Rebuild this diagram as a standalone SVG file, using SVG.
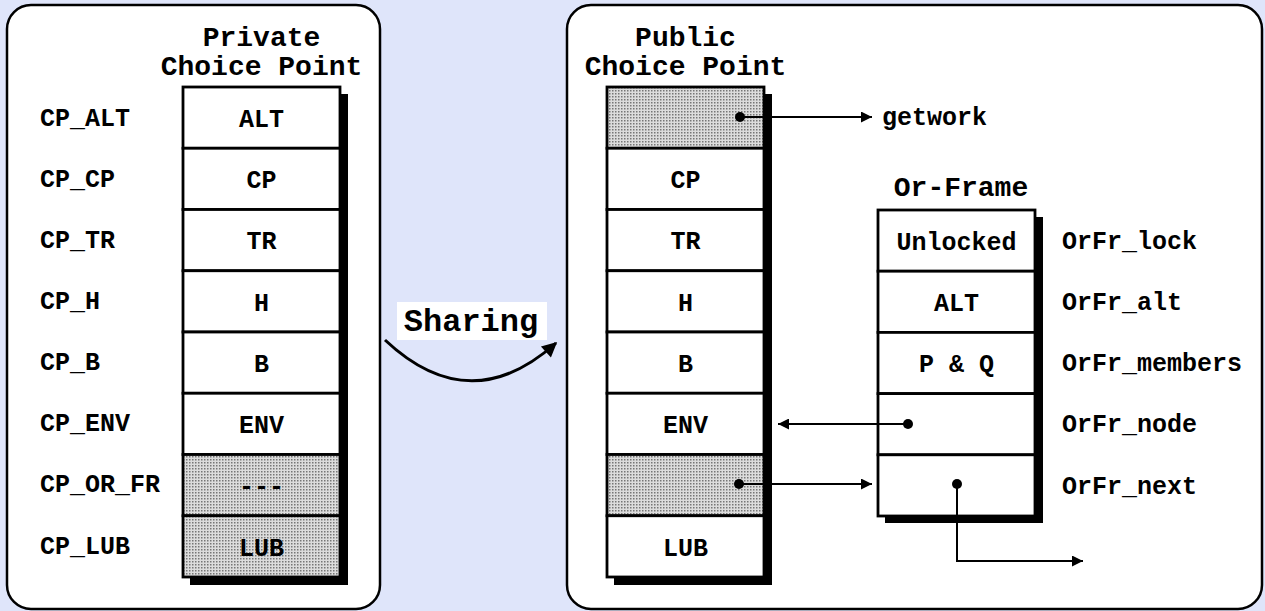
<svg xmlns="http://www.w3.org/2000/svg" width="1265" height="611" viewBox="0 0 1265 611">
<defs>
<pattern id="dots" width="3" height="3" patternUnits="userSpaceOnUse">
<rect width="3" height="3" fill="#dcdcdc"/>
<rect width="1.5" height="1.5" fill="#767676"/>
</pattern>
<marker id="ah" viewBox="0 0 10 10" refX="10" refY="5" markerWidth="14" markerHeight="11" orient="auto" markerUnits="userSpaceOnUse">
<path d="M0,0 L10,5 L0,10 Z" fill="#000"/>
</marker>
<marker id="ah2" viewBox="0 0 10 10" refX="9" refY="5" markerWidth="18" markerHeight="15" orient="auto" markerUnits="userSpaceOnUse">
<path d="M0,0 L10,5 L0,10 Z" fill="#000"/>
</marker>
</defs>
<style>
.panel{fill:#fff;stroke:#000;stroke-width:2.5}
.cell{fill:#fff;stroke:#000;stroke-width:2.8}
.shade{fill:url(#dots);stroke:#000;stroke-width:2.8}
.shadow{fill:#000}
text{font-family:"Liberation Mono","Courier New",monospace;font-weight:bold;fill:#000}
.t{font-size:25px}
.h{font-size:28px}
.c{text-anchor:middle}
.ln{fill:none;stroke:#000;stroke-width:2}
.dot{fill:#000}
</style>
<rect width="1265" height="611" fill="#dfe5fa"/>

<g id="private-panel">
<rect class="panel" x="7" y="5" width="373" height="604" rx="24"/>
<text class="h c" x="261.5" y="46">Private</text>
<text class="h c" x="261.5" y="75">Choice Point</text>
<rect class="shadow" x="190" y="94" width="158" height="491"/>
</g>

<g id="private-cp">
<rect class="cell" x="183" y="87" width="157" height="61.25"/>
<rect class="cell" x="183" y="148.25" width="157" height="61.25"/>
<rect class="cell" x="183" y="209.5" width="157" height="61.25"/>
<rect class="cell" x="183" y="270.75" width="157" height="61.25"/>
<rect class="cell" x="183" y="332" width="157" height="61.25"/>
<rect class="cell" x="183" y="393.25" width="157" height="61.25"/>
<rect class="shade" x="183" y="454.5" width="157" height="61.25"/>
<rect class="shade" x="183" y="515.75" width="157" height="61.25"/>
<text class="t c" x="261.5" y="127">ALT</text>
<text class="t c" x="261.5" y="188">CP</text>
<text class="t c" x="261.5" y="249">TR</text>
<text class="t c" x="261.5" y="311">H</text>
<text class="t c" x="261.5" y="372">B</text>
<text class="t c" x="261.5" y="433">ENV</text>
<text class="t c" x="261.5" y="494">---</text>
<text class="t c" x="261.5" y="556">LUB</text>
</g>

<g id="private-labels">
<text class="t" x="40" y="126">CP_ALT</text>
<text class="t" x="40" y="187">CP_CP</text>
<text class="t" x="40" y="248">CP_TR</text>
<text class="t" x="40" y="309">CP_H</text>
<text class="t" x="40" y="370">CP_B</text>
<text class="t" x="40" y="431">CP_ENV</text>
<text class="t" x="40" y="492">CP_OR_FR</text>
<text class="t" x="40" y="554">CP_LUB</text>
</g>

<g id="public-panel">
<rect class="panel" x="567" y="5" width="695" height="604" rx="24"/>
<text class="h c" x="685.5" y="46">Public</text>
<text class="h c" x="685.5" y="75">Choice Point</text>
<rect class="shadow" x="614" y="94" width="158" height="491"/>
</g>

<g id="public-cp">
<rect class="shade" x="607" y="87" width="157" height="61.25"/>
<rect class="cell" x="607" y="148.25" width="157" height="61.25"/>
<rect class="cell" x="607" y="209.5" width="157" height="61.25"/>
<rect class="cell" x="607" y="270.75" width="157" height="61.25"/>
<rect class="cell" x="607" y="332" width="157" height="61.25"/>
<rect class="cell" x="607" y="393.25" width="157" height="61.25"/>
<rect class="shade" x="607" y="454.5" width="157" height="61.25"/>
<rect class="cell" x="607" y="515.75" width="157" height="61.25"/>
<text class="t c" x="685.5" y="188">CP</text>
<text class="t c" x="685.5" y="249">TR</text>
<text class="t c" x="685.5" y="311">H</text>
<text class="t c" x="685.5" y="372">B</text>
<text class="t c" x="685.5" y="433">ENV</text>
<text class="t c" x="685.5" y="556">LUB</text>
</g>

<g id="getwork">
<text class="t" x="882" y="125">getwork</text>
</g>

<g id="or-frame">
<text class="h c" x="961" y="196">Or-Frame</text>
<rect class="shadow" x="885" y="217" width="158" height="306"/>
<rect class="cell" x="878" y="210" width="157" height="61.2"/>
<rect class="cell" x="878" y="271.2" width="157" height="61.2"/>
<rect class="cell" x="878" y="332.4" width="157" height="61.2"/>
<rect class="cell" x="878" y="393.6" width="157" height="61.2"/>
<rect class="cell" x="878" y="454.8" width="157" height="61.2"/>
<text class="t c" x="956.5" y="250">Unlocked</text>
<text class="t c" x="956.5" y="311">ALT</text>
<text class="t c" x="956.5" y="372">P &amp; Q</text>
</g>

<g id="or-frame-labels">
<text class="t" x="1062" y="249">OrFr_lock</text>
<text class="t" x="1062" y="310">OrFr_alt</text>
<text class="t" x="1062" y="371">OrFr_members</text>
<text class="t" x="1062" y="432">OrFr_node</text>
<text class="t" x="1062" y="494">OrFr_next</text>
</g>

<g id="sharing">
<rect x="397" y="302" width="150" height="38" fill="#fff"/>
<text x="471" y="331" style="font-size:32px" class="c">Sharing</text>
</g>

<g id="connectors">
<path class="ln" style="stroke-width:3" d="M385,340 Q470,420 556,343" marker-end="url(#ah2)"/>
<circle class="dot" cx="740" cy="117" r="5"/>
<line class="ln" x1="740" y1="117" x2="872" y2="117" marker-end="url(#ah)"/>
<circle class="dot" cx="908" cy="424" r="5"/>
<line class="ln" x1="908" y1="424" x2="778" y2="424" marker-end="url(#ah)"/>
<circle class="dot" cx="739" cy="484" r="5"/>
<line class="ln" x1="739" y1="484" x2="872" y2="484" marker-end="url(#ah)"/>
<circle class="dot" cx="957" cy="484" r="5"/>
<polyline class="ln" points="957,484 957,561 1083,561" marker-end="url(#ah)"/>
</g>
</svg>
